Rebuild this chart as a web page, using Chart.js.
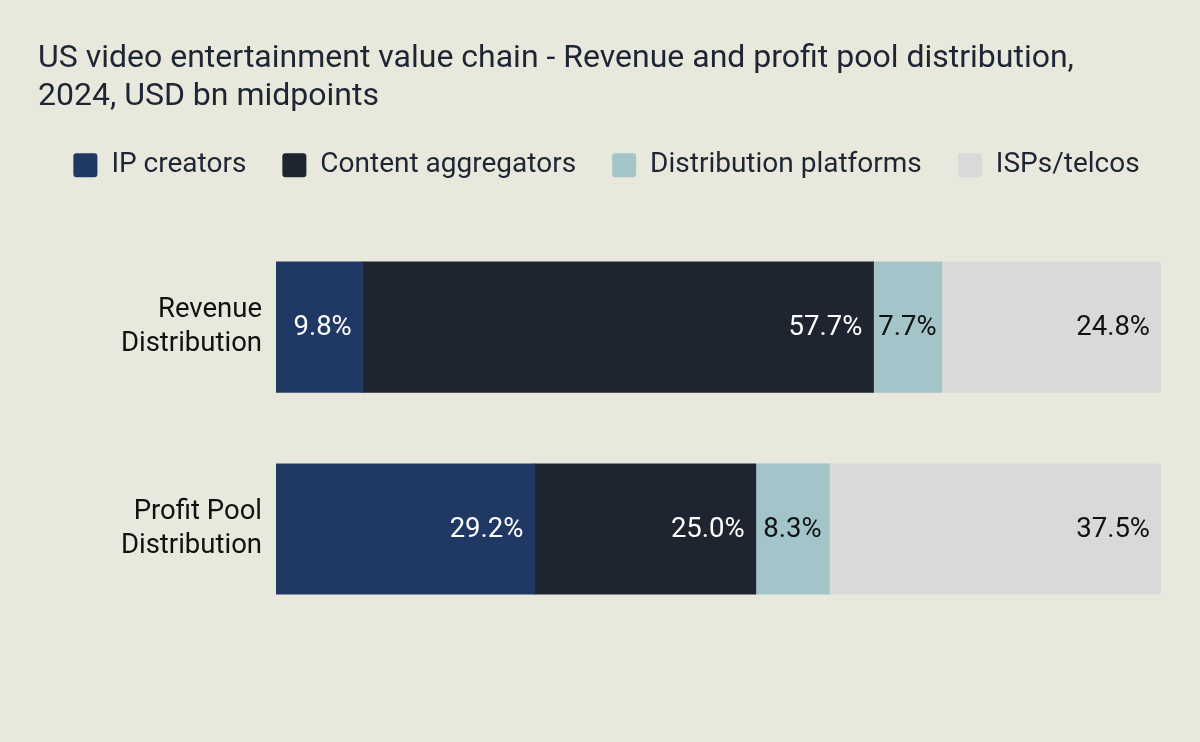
<!DOCTYPE html>
<html>
<head>
<meta charset="utf-8">
<script src="https://cdn.jsdelivr.net/npm/chart.js@4"></script>
<style>
  html, body { margin: 0; padding: 0; background: #e8e8dc; }
  #wrap { width: 1200px; height: 742px; }
</style>
</head>
<body>
<div id="wrap"><canvas id="chart"></canvas></div>
<script>
// Dados do gráfico
const categories = [["Revenue", "Distribution"], ["Profit Pool", "Distribution"]];
const seriesNames = ["IP creators", "Content aggregators", "Distribution platforms", "ISPs/telcos"];
const ipCreators = [9.8, 29.2];
const contentAggregators = [57.7, 25.0];
const distributionPlatforms = [7.7, 8.3];
const ispsTelcos = [24.8, 37.5];

const seriesColors = ["#203864", "#1e2430", "#a3c4c8", "#d9d9d9"];
const labelColors = ["#ffffff", "#ffffff", "#111111", "#111111"];

// Plugin simples para desenhar os rótulos dentro das barras
const barLabels = {
    id: "barLabels",
    afterDatasetsDraw(chart) {
        const ctx = chart.ctx;
        ctx.save();
        ctx.font = "27.5px Roboto";
        ctx.textAlign = "right";
        ctx.textBaseline = "middle";
        chart.data.datasets.forEach((ds, i) => {
            const meta = chart.getDatasetMeta(i);
            meta.data.forEach((bar, j) => {
                const text = ds.data[j].toFixed(1) + "%";
                const w = ctx.measureText(text).width;
                const segW = bar.x - bar.base;
                // se o texto não cabe com folga, centraliza no segmento
                const offset = Math.min(11, (segW - w) / 2);
                ctx.fillStyle = labelColors[i];
                ctx.fillText(text, bar.x - offset, bar.y + 1);
            });
        });
        ctx.restore();
    },
};

// Legenda numa linha só e espaço extra até as barras
const legendFit = {
    id: "legendFit",
    beforeInit(chart) {
        const fit = chart.legend.fit;
        chart.legend.fit = function () {
            const mw = this.maxWidth;
            this.maxWidth = mw + 100;
            fit.call(this);
            this.maxWidth = mw;
            this.width = Math.min(this.width, mw);
            this.height += 37;
        };
    },
    afterLayout(chart) {
        chart.legend.left = 13;
        chart.legend.right = chart.width;
    },
};

const allSeries = [ipCreators, contentAggregators, distributionPlatforms, ispsTelcos];

new Chart(document.getElementById("chart"), {
    type: "bar",
    plugins: [barLabels, legendFit],
    data: {
        labels: categories,
        datasets: allSeries.map((values, i) => ({
            label: seriesNames[i],
            data: values,
            backgroundColor: seriesColors[i],
            borderWidth: 0,
            borderRadius: i === allSeries.length - 1 ? 4 : 0,
            borderSkipped: "start",
            inflateAmount: 0.5,
            barPercentage: 0.8,
            categoryPercentage: 0.805,
        })),
    },
    options: {
        indexAxis: "y",
        responsive: true,
        maintainAspectRatio: false,
        animation: false,
        layout: { padding: { left: 38, right: 39, top: 40, bottom: 112 } },
        plugins: {
            tooltip: { enabled: false },
            title: {
                display: true,
                text: ["US video entertainment value chain - Revenue and profit pool distribution,", "2024, USD bn midpoints"],
                align: "start",
                color: "#1e2533",
                font: { family: "Roboto", size: 32, weight: "normal", lineHeight: 1.19 },
                padding: { top: 0, bottom: -1 },
            },
            legend: {
                position: "top",
                labels: {
                    color: "#1e2533",
                    font: { family: "Roboto", size: 28 },
                    boxWidth: 24,
                    boxHeight: 24,
                    useBorderRadius: true,
                    borderRadius: 3,
                    padding: 36,
                },
            },
        },
        scales: {
            x: {
                stacked: true,
                min: 0,
                max: 100,
                display: false,
            },
            y: {
                stacked: true,
                grid: { display: false, drawTicks: false },
                border: { display: false },
                afterFit(axis) { axis.width = 238; },
                ticks: {
                    color: "#111111",
                    font: { family: "Roboto", size: 27.5, lineHeight: 1.22 },
                    padding: 14,
                },
            },
        },
    },
});
</script>
</body>
</html>
